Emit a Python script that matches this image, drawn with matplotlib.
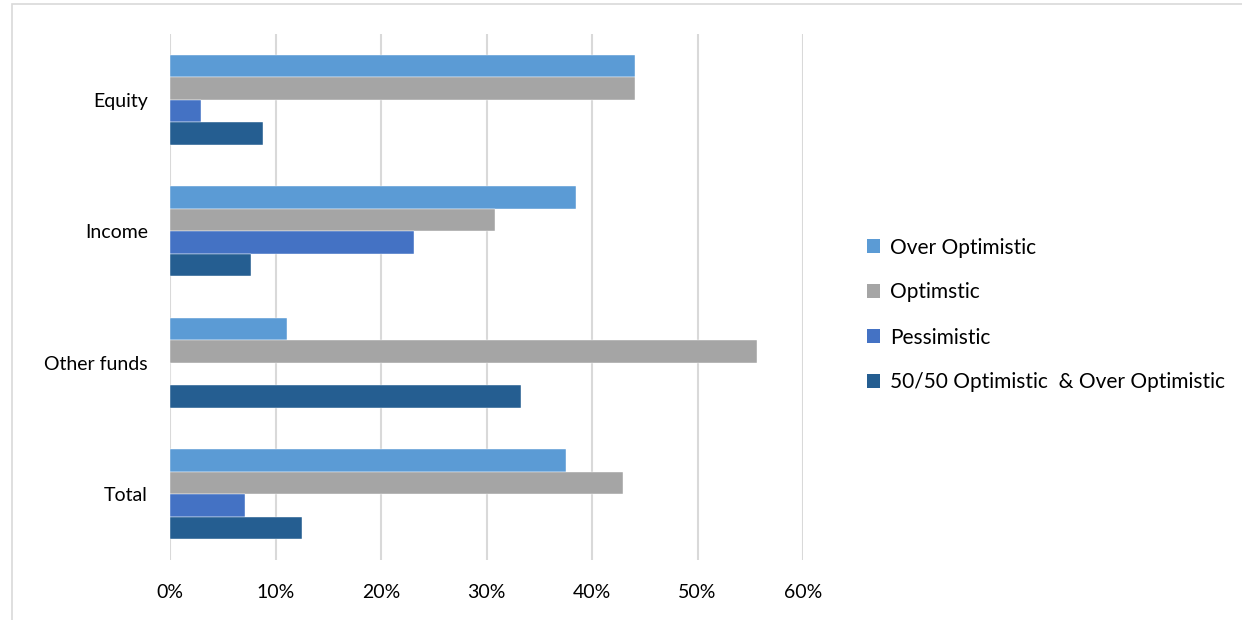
import matplotlib
matplotlib.use("Agg")
import matplotlib.pyplot as plt
import matplotlib.patches as mpatches
import numpy as np

# ── Data ──────────────────────────────────────────────────────────────────────
categories = ["Equity", "Income", "Other funds", "Total"]
series_names = ["Over Optimistic", "Optimstic", "Pessimistic",
                "50/50 Optimistic  & Over Optimistic"]
over_optimistic = [44.1, 38.5, 11.1, 37.5]
optimistic      = [44.1, 30.8, 55.6, 42.9]
pessimistic     = [2.9, 23.1, 0.0, 7.1]
fifty_fifty     = [8.8, 7.7, 33.3, 12.5]
xticks = [0, 10, 20, 30, 40, 50, 60]

colors = ["#5B9BD5", "#A5A5A5", "#4472C4", "#255E91"]
series = [over_optimistic, optimistic, pessimistic, fifty_fifty]

plt.rcParams["font.family"] = ["Lato", "DejaVu Sans"]

fig = plt.figure(figsize=(12.42, 6.2), dpi=100)
fig.patch.set_facecolor("white")

# light chart frame (Excel-style)
frame = mpatches.Rectangle((12 / 1242, -0.05), 1.1, 1 - 4 / 620 + 0.05,
                           transform=fig.transFigure, fill=False,
                           edgecolor="#D9D9D9", linewidth=1.2)
fig.patches.append(frame)

ax = fig.add_axes([170 / 1242, 60 / 620, 633 / 1242, 526 / 620])

n = len(categories)
ypos = np.arange(n)
bh = 0.171
for i, (vals, c, name) in enumerate(zip(series, colors, series_names)):
    offs = (i - 1.5) * bh
    ax.barh(ypos + offs, vals, height=bh, color=c, label=name,
            edgecolor="white", linewidth=0.3, zorder=3)

ax.set_ylim(n - 0.5, -0.5)
ax.set_xlim(0, 60)
ax.set_xticks(xticks)
ax.set_xticklabels([f"{t}%" for t in xticks])
ax.set_yticks(ypos)
ax.set_yticklabels(categories)
ax.tick_params(axis="both", length=0, labelsize=14, colors="black")
ax.tick_params(axis="x", pad=17)
ax.tick_params(axis="y", pad=16)
for s in ax.spines.values():
    s.set_visible(False)
ax.xaxis.grid(True, color="#D9D9D9", linewidth=1.5, zorder=0)
ax.set_axisbelow(True)

handles = [mpatches.Patch(facecolor=c, label=nm) for c, nm in zip(colors, series_names)]
fig.legend(handles=handles, loc="center left", bbox_to_anchor=(848 / 1242, 1 - 315 / 620),
           frameon=False, fontsize=15, handlelength=0.65, handleheight=0.65,
           handletextpad=0.45, labelspacing=1.2)

plt.savefig("out.png", dpi=100, facecolor=fig.get_facecolor())
